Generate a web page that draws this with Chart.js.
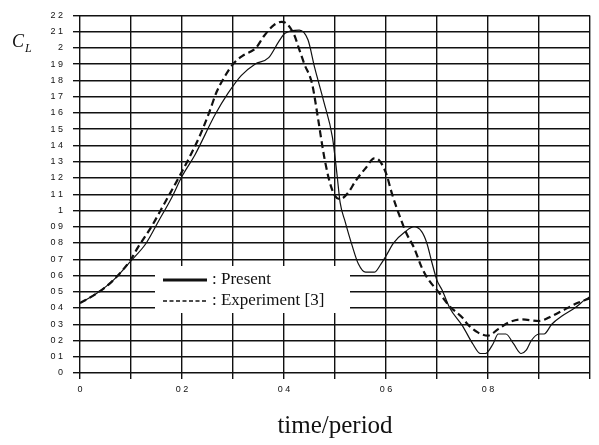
<!DOCTYPE html>
<html>
<head>
  <meta charset="UTF-8">
  <title>CL vs time/period</title>
  <script src="https://cdn.jsdelivr.net/npm/chart.js"></script>
  <style>
    body { margin: 0; background: #fff; }
    #clChart { display: block; }
  </style>
</head>
<body>
  <canvas id="clChart" width="599" height="445"></canvas>

  <script>
    // Present computation
    const tPresent = [0, 0.033, 0.065, 0.1, 0.13, 0.155, 0.18, 0.2, 0.225, 0.265, 0.29, 0.316, 0.343, 0.37, 0.39, 0.402, 0.43, 0.447, 0.46, 0.478, 0.495, 0.504, 0.51, 0.52, 0.533, 0.546, 0.56, 0.577, 0.59, 0.6, 0.615, 0.638, 0.655, 0.67, 0.68, 0.69, 0.70, 0.71, 0.725, 0.75, 0.77, 0.785, 0.795, 0.81, 0.82, 0.835, 0.85, 0.865, 0.875, 0.885, 0.9, 0.91, 0.925, 0.945, 0.97, 0.99, 1.0];
    const clPresent = [0.43, 0.49, 0.57, 0.69, 0.8, 0.94, 1.08, 1.21, 1.34, 1.59, 1.72, 1.83, 1.9, 1.94, 2.04, 2.09, 2.11, 2.05, 1.88, 1.67, 1.45, 1.22, 1.05, 0.93, 0.79, 0.67, 0.62, 0.62, 0.67, 0.72, 0.8, 0.87, 0.9, 0.87, 0.8, 0.68, 0.57, 0.51, 0.4, 0.29, 0.18, 0.12, 0.12, 0.18, 0.24, 0.24, 0.18, 0.12, 0.14, 0.2, 0.24, 0.24, 0.3, 0.35, 0.4, 0.45, 0.47];

    // Experiment [3]
    const tExp = [0, 0.033, 0.065, 0.1, 0.113, 0.14, 0.165, 0.195, 0.215, 0.235, 0.253, 0.268, 0.285, 0.3, 0.318, 0.345, 0.36, 0.38, 0.395, 0.405, 0.42, 0.43, 0.44, 0.455, 0.467, 0.475, 0.48, 0.49, 0.5, 0.51, 0.526, 0.54, 0.56, 0.577, 0.586, 0.6, 0.612, 0.625, 0.64, 0.655, 0.67, 0.68, 0.705, 0.725, 0.75, 0.76, 0.78, 0.8, 0.82, 0.84, 0.865, 0.9, 0.925, 0.95, 0.975, 1.0];
    const clExp = [0.43, 0.49, 0.57, 0.7, 0.77, 0.9, 1.04, 1.21, 1.33, 1.46, 1.6, 1.73, 1.83, 1.9, 1.95, 2.0, 2.07, 2.14, 2.16, 2.15, 2.08, 1.99, 1.9, 1.78, 1.56, 1.4, 1.31, 1.17, 1.09, 1.07, 1.11, 1.18, 1.26, 1.32, 1.31, 1.23, 1.1, 0.98, 0.86, 0.77, 0.65, 0.59, 0.49, 0.41, 0.34, 0.3, 0.25, 0.23, 0.27, 0.31, 0.33, 0.32, 0.35, 0.39, 0.43, 0.46];

    // axis labels (decimal points were lost in print)
    const xTickLabels = ['0', '', '0 2', '', '0 4', '', '0 6', '', '0 8', '', ''];
    const yTickLabels = ['0', '0 1', '0 2', '0 3', '0 4', '0 5', '0 6', '0 7', '0 8', '0 9', '1',
                         '1 1', '1 2', '1 3', '1 4', '1 5', '1 6', '1 7', '1 8', '1 9', '2', '2 1', '2 2'];

    const toPoints = (xs, ys) => xs.map((x, i) => ({ x: x, y: ys[i] }));

    // C_L with subscript, left of the y axis
    const yTitlePlugin = {
      id: 'yTitle',
      afterDraw(chart) {
        const ctx = chart.ctx;
        ctx.save();
        ctx.fillStyle = '#111';
        ctx.textBaseline = 'alphabetic';
        ctx.font = 'italic 18px "Liberation Serif"';
        ctx.fillText('C', 12, 47);
        ctx.font = 'italic 12px "Liberation Serif"';
        ctx.fillText('L', 25, 52);
        ctx.restore();
      }
    };

    // boxed legend sitting inside the plot
    const innerLegend = {
      id: 'innerLegend',
      afterDatasetsDraw(chart) {
        const ctx = chart.ctx;
        ctx.save();
        ctx.fillStyle = '#fff';
        ctx.fillRect(155, 266, 195, 47);
        ctx.font = '17px "Liberation Serif"';
        ctx.textBaseline = 'middle';
        chart.data.datasets.forEach((ds, i) => {
          const y = 280 + i * 21;
          ctx.strokeStyle = '#111';
          ctx.lineWidth = i === 0 ? 3 : 1.6;
          ctx.setLineDash(i === 0 ? [] : [4, 2.5]);
          ctx.beginPath();
          ctx.moveTo(163, y);
          ctx.lineTo(207, y);
          ctx.stroke();
          ctx.setLineDash([]);
          ctx.fillStyle = '#111';
          ctx.fillText(': ' + ds.label, 212, y);
        });
        ctx.restore();
      }
    };

    const ctx = document.getElementById('clChart').getContext('2d');
    const chart = new Chart(ctx, {
      type: 'scatter',
      data: {
        datasets: [
          {
            label: 'Present',
            data: toPoints(tPresent, clPresent),
            showLine: true,
            borderColor: '#111',
            borderWidth: 1.2,
            pointRadius: 0,
            cubicInterpolationMode: 'monotone'
          },
          {
            label: 'Experiment [3]',
            data: toPoints(tExp, clExp),
            showLine: true,
            borderColor: '#111',
            borderWidth: 2.2,
            borderDash: [7, 4],
            pointRadius: 0,
            cubicInterpolationMode: 'monotone'
          }
        ]
      },
      options: {
        responsive: false,
        devicePixelRatio: 1,
        animation: false,
        layout: { padding: { top: 14, right: 9, left: 0, bottom: 0 } },
        plugins: {
          legend: { display: false },
          tooltip: { enabled: false }
        },
        scales: {
          x: {
            type: 'linear',
            min: 0,
            max: 1,
            afterFit: s => { s.height = 72; },
            grid: { color: '#111', lineWidth: 1.4, tickLength: 6 },
            border: { display: false },
            ticks: {
              stepSize: 0.1,
              padding: 5,
              maxRotation: 0,
              autoSkip: false,
              color: '#111',
              font: { family: 'Liberation Sans', size: 9 },
              callback: (v, i) => xTickLabels[i]
            },
            title: {
              display: true,
              text: 'time/period',
              color: '#111',
              font: { family: 'Liberation Serif', size: 25 },
              padding: { top: 0, bottom: 4 }
            }
          },
          y: {
            min: 0,
            max: 2.2,
            afterFit: s => { s.width = 80; },
            grid: { color: '#111', lineWidth: 1.4, tickLength: 7 },
            border: { display: false },
            ticks: {
              stepSize: 0.1,
              padding: 10,
              autoSkip: false,
              color: '#111',
              font: { family: 'Liberation Sans', size: 9 },
              callback: (v, i) => yTickLabels[i]
            }
          }
        }
      },
      plugins: [yTitlePlugin, innerLegend]
    });
  </script>
</body>
</html>
